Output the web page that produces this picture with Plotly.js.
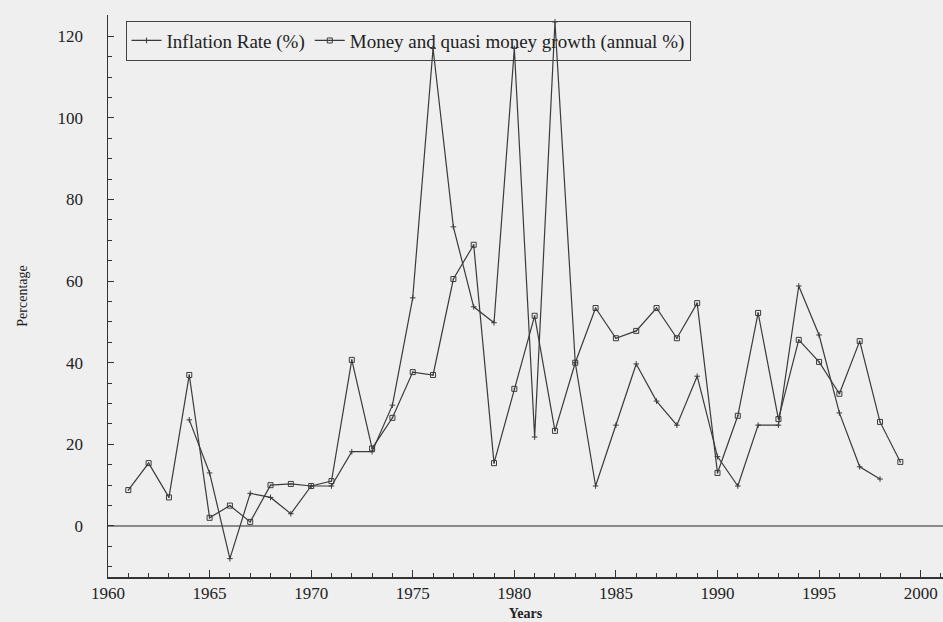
<!DOCTYPE html>
<html>
<head>
<meta charset="utf-8">
<script src="https://cdn.plot.ly/plotly-3.0.1.min.js"></script>
<style>html,body{margin:0;padding:0;background:#efefef;}#chart{width:943px;height:622px;}</style>
</head>
<body>
<div id="chart"></div>
<script>
// Inflation Rate (%) 1964-1998
const inflationYears = [1964,1965,1966,1967,1968,1969,1970,1971,1972,1973,1974,1975,1976,1977,1978,1979,1980,1981,1982,1983,1984,1985,1986,1987,1988,1989,1990,1991,1992,1993,1994,1995,1996,1997,1998];
const inflationValues = [26,13,-8,8,7,3,9.8,9.8,18.2,18.2,29.6,55.9,117,73.3,53.7,49.8,117,21.8,123.5,40,9.8,24.7,39.7,30.6,24.7,36.7,17,9.8,24.7,24.7,58.8,46.8,27.7,14.5,11.5];
// Money and quasi money growth (annual %) 1961-1999
const moneyYears = [1961,1962,1963,1964,1965,1966,1967,1968,1969,1970,1971,1972,1973,1974,1975,1976,1977,1978,1979,1980,1981,1982,1983,1984,1985,1986,1987,1988,1989,1990,1991,1992,1993,1994,1995,1996,1997,1998,1999];
const moneyValues = [8.8,15.4,7,37,2,5,1,10,10.3,9.8,11,40.7,19,26.5,37.7,37,60.5,68.9,15.4,33.6,51.5,23.3,40,53.4,46,47.8,53.4,46,54.6,13,27,52.2,26.2,45.6,40.2,32.4,45.3,25.5,15.7];
const xTickVals = [1960,1965,1970,1975,1980,1985,1990,1995,2000];
const yTickVals = [0,20,40,60,80,100,120];

const lineColor = '#3a3a3a';
const font = 'Liberation Serif, Times New Roman, serif';

const traces = [
  {x: inflationYears, y: inflationValues, name: 'Inflation Rate (%)', type: 'scatter', mode: 'lines+markers',
   line: {color: lineColor, width: 1.2},
   marker: {symbol: 'cross-thin-open', size: 4, color: lineColor, line: {color: lineColor, width: 1}}},
  {x: moneyYears, y: moneyValues, name: 'Money and quasi money growth (annual %)', type: 'scatter', mode: 'lines+markers',
   line: {color: lineColor, width: 1.2},
   marker: {symbol: 'square-open-dot', size: 5, color: lineColor, line: {color: lineColor, width: 1}}}
];

const layout = {
  width: 943, height: 622,
  paper_bgcolor: '#efefef', plot_bgcolor: '#efefef',
  margin: {l: 108, r: 0, t: 15, b: 45},
  font: {family: font, color: '#222', size: 17},
  showlegend: true,
  legend: {x: 0.021, y: 0.99, xanchor: 'left', yanchor: 'top', orientation: 'h',
    bgcolor: 'rgba(0,0,0,0)', bordercolor: '#444', borderwidth: 1,
    font: {family: font, size: 19, color: '#222'}, itemwidth: 30, tracegroupgap: 0},
  xaxis: {range: [1960, 2001.1], tickvals: xTickVals, ticks: 'inside', ticklen: 7, tickcolor: '#333',
    showline: true, linecolor: '#333', linewidth: 1.5, mirror: false, showgrid: false, zeroline: false,
    minor: {dtick: 1, ticks: 'inside', ticklen: 4, tickcolor: '#333', showgrid: false},
    tickfont: {family: font, size: 17, color: '#222'},
    title: {text: '<b>Years</b>', font: {family: font, size: 14, color: '#222'}, standoff: 6}},
  yaxis: {range: [-12.5, 125.2], tickvals: yTickVals, ticks: 'inside', ticklen: 6, tickcolor: '#333',
    showline: true, linecolor: '#333', linewidth: 1.5, showgrid: false,
    zeroline: true, zerolinecolor: '#8a8a8a', zerolinewidth: 1.2,
    ticklabelstandoff: 20,
    minor: {dtick: 5, ticks: 'inside', ticklen: 4, tickcolor: '#333', showgrid: false},
    tickfont: {family: font, size: 17, color: '#222'},
    title: {text: 'Percentage', font: {family: font, size: 14, color: '#222'}, standoff: 26}}
};

Plotly.newPlot('chart', traces, layout, {displayModeBar: false, staticPlot: true});
</script>
</body>
</html>
